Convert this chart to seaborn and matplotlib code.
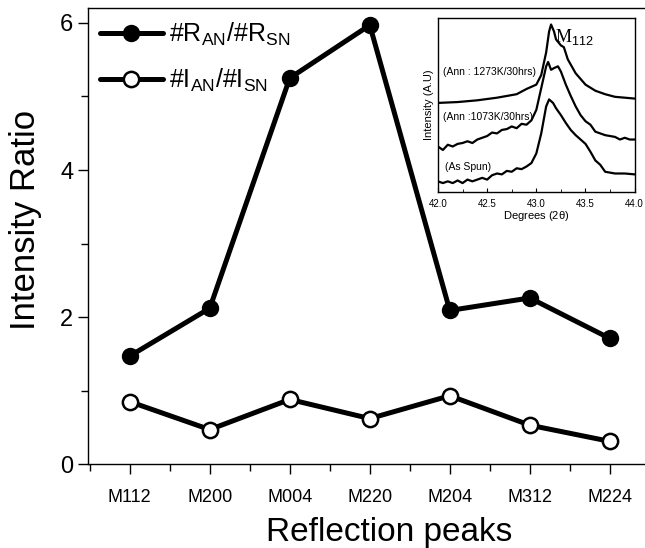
import numpy as np
import pandas as pd
import matplotlib
matplotlib.use("Agg")
import matplotlib.pyplot as plt
from matplotlib.ticker import FixedLocator, MultipleLocator
import seaborn as sns

# main chart data
peaks = ["M112", "M200", "M004", "M220", "M204", "M312", "M224"]
r_ratio = [1.47, 2.12, 5.25, 5.97, 2.09, 2.26, 1.71]
i_ratio = [0.85, 0.47, 0.88, 0.62, 0.93, 0.53, 0.31]

# inset XRD scans (arbitrary units)
deg_1273 = [42.0, 42.2, 42.4, 42.6, 42.8, 42.9, 43.0, 43.05, 43.1, 43.13, 43.15, 43.18,
            43.2, 43.25, 43.28, 43.32, 43.4, 43.5, 43.6, 43.7, 43.8, 44.0]
int_1273 = [51, 51.5, 52.5, 54, 56, 59, 61.5, 67, 80, 92, 96, 92,
            87.5, 84, 83, 76, 68, 61.5, 58, 56, 54.5, 53.5]

deg_1073 = [42.0, 42.05, 42.1, 42.15, 42.2, 42.25, 42.3, 42.35, 42.4, 42.45, 42.5, 42.55,
            42.6, 42.65, 42.7, 42.75, 42.8, 42.85, 42.9, 42.95, 43.0, 43.05, 43.1, 43.12,
            43.15, 43.18, 43.22, 43.25, 43.3, 43.35, 43.4, 43.45, 43.5, 43.55, 43.6, 43.65,
            43.7, 43.75, 43.8, 43.85, 43.9, 43.95, 44.0]
int_1073 = [26, 24, 27, 26, 27.5, 28, 29, 28, 30, 31, 32, 34,
            33.5, 35.5, 36, 37.5, 36.5, 39, 38.5, 41, 47, 59.5, 72, 74.5,
            70, 71, 72, 69, 61.5, 55, 49, 44, 40.5, 38.5, 34.5, 33.5,
            32.5, 32, 31.5, 30, 31, 30, 30]

deg_spun = [42.0, 42.05, 42.1, 42.15, 42.2, 42.25, 42.3, 42.35, 42.4, 42.45, 42.5, 42.55,
            42.6, 42.65, 42.7, 42.75, 42.8, 42.85, 42.9, 42.95, 43.0, 43.05, 43.1, 43.13,
            43.17, 43.2, 43.25, 43.3, 43.35, 43.4, 43.45, 43.5, 43.55, 43.6, 43.65, 43.7,
            43.75, 43.8, 43.9, 44.0]
int_spun = [6, 5, 6, 5, 6.5, 5, 7, 6, 7, 8, 7, 9.5,
            10.5, 10, 12, 11.5, 13.5, 13, 14.5, 16.5, 22, 33.5, 49, 53,
            51, 48, 44, 39.5, 35.5, 32.5, 30, 27.5, 23, 18, 15.5, 11.5,
            11, 10.5, 10.5, 10]

sns.set_style("ticks")
plt.rcParams["font.family"] = ["Liberation Sans", "DejaVu Sans"]
plt.rcParams["mathtext.fontset"] = "custom"
plt.rcParams["mathtext.rm"] = "Liberation Sans"
plt.rcParams["mathtext.it"] = "Liberation Sans"
for key in ["text.color", "axes.labelcolor", "xtick.color", "ytick.color", "axes.edgecolor"]:
    plt.rcParams[key] = "black"

df = pd.DataFrame({"peak": peaks, "R": r_ratio, "I": i_ratio})

fig = plt.figure(figsize=(6.45, 5.48), dpi=100)
# axes runs past the right edge, as in the original crop
ax = fig.add_axes([0.136, 0.153, 0.936, 0.832])

sns.lineplot(data=df, x="peak", y="R", sort=False, ax=ax, color="black", lw=3.6,
             marker="o", markersize=11, markerfacecolor="black", markeredgecolor="black",
             markeredgewidth=1.5, label=r"#R$_{\mathrm{AN}}$/#R$_{\mathrm{SN}}$")
sns.lineplot(data=df, x="peak", y="I", sort=False, ax=ax, color="black", lw=3.6,
             marker="o", markersize=11, markerfacecolor="white", markeredgecolor="black",
             markeredgewidth=1.8, label=r"#I$_{\mathrm{AN}}$/#I$_{\mathrm{SN}}$")

ax.set_xlim(-0.525, 7.02)
ax.set_ylim(0, 6.2)
ax.yaxis.set_major_locator(FixedLocator([0, 2, 4, 6]))
ax.yaxis.set_minor_locator(FixedLocator([1, 3, 5]))
ax.xaxis.set_minor_locator(FixedLocator(np.arange(-0.5, 7, 1)))
ax.tick_params(axis="y", which="major", labelsize=17, length=7, width=1, direction="out")
ax.tick_params(axis="y", which="minor", length=5, width=1, direction="out")
ax.tick_params(axis="x", which="major", labelsize=13, length=7, width=1, direction="out", pad=11)
ax.tick_params(axis="x", which="minor", length=5, width=1, direction="out")
ax.set_xlabel("Reflection peaks", fontsize=24, labelpad=8)
ax.set_ylabel("Intensity Ratio", fontsize=25)
ax.yaxis.set_label_coords(-0.075, 0.535)
ax.spines["right"].set_visible(False)
for s in ["left", "bottom", "top"]:
    ax.spines[s].set_linewidth(1.0)

leg = ax.legend(loc="upper left", frameon=False, fontsize=18, handlelength=2.5,
                handletextpad=0.25, borderaxespad=0.1, labelspacing=0.75,
                bbox_to_anchor=(0.0, 1.0))

# inset
ins = fig.add_axes([0.679, 0.650, 0.305, 0.318])
for d, v in [(deg_1273, int_1273), (deg_1073, int_1073), (deg_spun, int_spun)]:
    sns.lineplot(x=d, y=v, sort=False, ax=ins, color="black", lw=1.6)
ins.set_xlim(42.0, 44.0)
ins.set_ylim(0, 100)
ins.set_yticks([])
ins.xaxis.set_major_locator(MultipleLocator(0.5))
ins.xaxis.set_minor_locator(MultipleLocator(0.25))
ins.xaxis.set_major_formatter(matplotlib.ticker.FormatStrFormatter("%.1f"))
ins.tick_params(axis="x", which="major", labelsize=7, length=3, direction="in", pad=5)
ins.tick_params(axis="x", which="minor", length=2, direction="in")
ins.set_xlabel(r"Degrees (2$\theta$)", fontsize=8, labelpad=0)
ins.set_ylabel("Intensity (A.U)", fontsize=8, labelpad=3)
for s in ins.spines.values():
    s.set_linewidth(1.0)
ins.text(42.05, 69, "(Ann : 1273K/30hrs)", fontsize=7.5, va="center", ha="left")
ins.text(42.05, 43, "(Ann :1073K/30hrs)", fontsize=7.5, va="center", ha="left")
ins.text(42.07, 14.5, "(As Spun)", fontsize=7.5, va="center", ha="left")
ins.text(43.19, 89, r"M$_{112}$", fontsize=13, va="center", ha="left",
         family="Liberation Serif")

fig.savefig("out.png", dpi=100)
